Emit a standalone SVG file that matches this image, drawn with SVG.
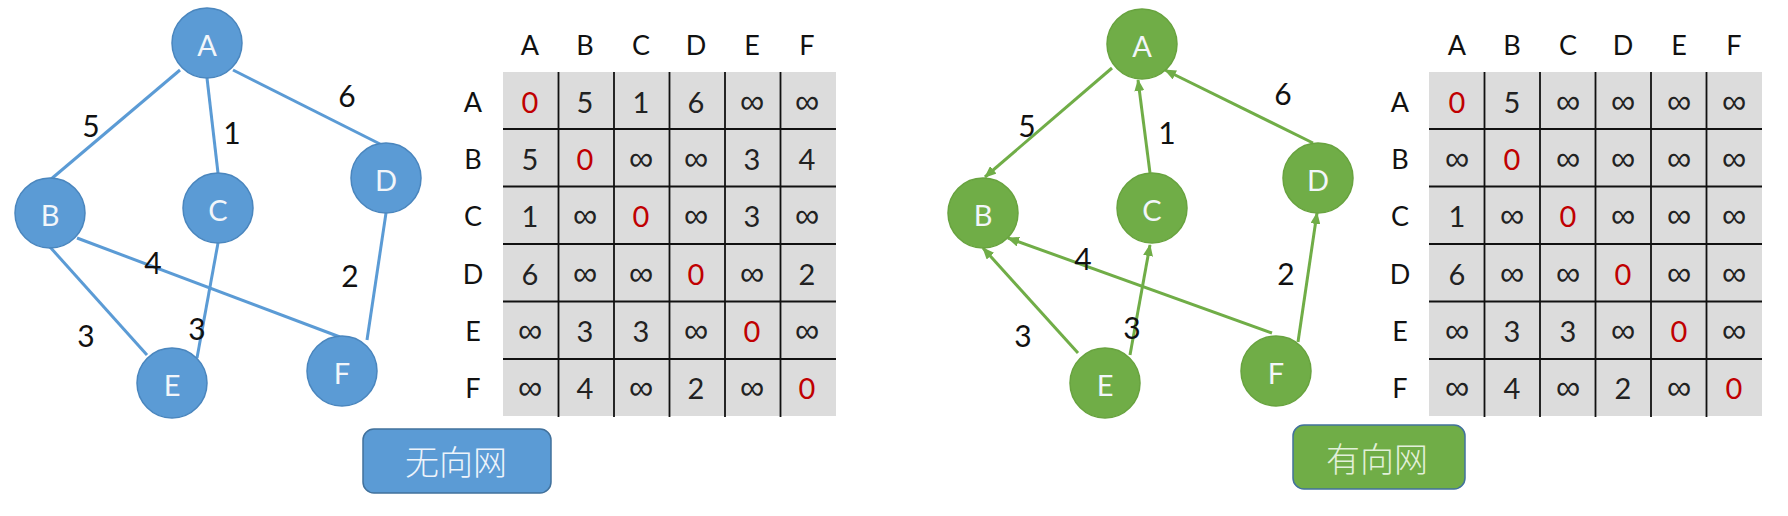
<svg xmlns="http://www.w3.org/2000/svg" width="1788" height="516" viewBox="0 0 1788 516">
<style>
.bn{fill:#5B9BD5;stroke:#4A86BE;stroke-width:1.5}
.gn{fill:#70AD47;stroke:#68A33F;stroke-width:1.5}
.nl{font-family:Lato,"Open Sans",sans-serif;font-size:29px;fill:#F2F6FA;text-anchor:middle;dominant-baseline:central}
.be{stroke:#5B9BD5;stroke-width:3;fill:none}
.ge{stroke:#70AD47;stroke-width:3;fill:none}
.el{font-family:Lato,"Open Sans",sans-serif;font-size:30px;fill:#111;text-anchor:middle;dominant-baseline:central}
.hd{font-family:Lato,"Open Sans",sans-serif;font-size:27px;fill:#111;text-anchor:middle;dominant-baseline:central}
.cv{font-family:Lato,"Open Sans",sans-serif;font-size:29px;fill:#222;text-anchor:middle;dominant-baseline:central}
.inf{font-family:"DejaVu Sans",sans-serif;font-weight:200;font-size:34px}
.z{fill:#C00000}
.bg{fill:#DCDCDC}
.gl{stroke:#111;stroke-width:1.8}
.btn{font-family:"Noto Sans CJK SC",sans-serif;font-size:34px;font-weight:300;text-anchor:middle;dominant-baseline:central}
</style>
<defs>
<marker id="arr" viewBox="0 0 12 10" refX="11" refY="5" markerWidth="12" markerHeight="10" markerUnits="userSpaceOnUse" orient="auto">
<path d="M0,0 L12,5 L0,10 z" fill="#70AD47"/>
</marker>
</defs>
<rect width="1788" height="516" fill="#FFFFFF"/>

<!-- left graph connectors -->
<g id="left-edges">
<line class="be" x1="180" y1="70" x2="50" y2="180"/>
<line class="be" x1="207" y1="78" x2="218" y2="173"/>
<line class="be" x1="233" y1="70" x2="380" y2="144"/>
<line class="be" x1="50" y1="247" x2="147" y2="355"/>
<line class="be" x1="77" y1="238" x2="340" y2="337"/>
<line class="be" x1="218" y1="243" x2="197" y2="358"/>
<line class="be" x1="386" y1="213" x2="367" y2="340"/>
<text class="el" x="91" y="125">5</text>
<text class="el" x="232" y="132">1</text>
<text class="el" x="347" y="95">6</text>
<text class="el" x="153" y="262">4</text>
<text class="el" x="350" y="275">2</text>
<text class="el" x="86" y="335">3</text>
<text class="el" x="197" y="328">3</text>
</g>
<g id="L-A"><circle class="bn" cx="207" cy="43" r="35"/><text class="nl" x="207" y="44">A</text></g>
<g id="L-B"><circle class="bn" cx="50" cy="213" r="35"/><text class="nl" x="50" y="214">B</text></g>
<g id="L-C"><circle class="bn" cx="218" cy="208" r="35"/><text class="nl" x="218" y="209">C</text></g>
<g id="L-D"><circle class="bn" cx="386" cy="178" r="35"/><text class="nl" x="386" y="179">D</text></g>
<g id="L-E"><circle class="bn" cx="172" cy="383" r="35"/><text class="nl" x="172" y="384">E</text></g>
<g id="L-F"><circle class="bn" cx="342" cy="371" r="35"/><text class="nl" x="342" y="372">F</text></g>

<!-- left matrix -->
<g id="left-matrix">
<rect class="bg" x="503" y="72" width="333" height="344"/>
<g class="gl">
<line x1="558.5" y1="72" x2="558.5" y2="417"/>
<line x1="614" y1="72" x2="614" y2="417"/>
<line x1="669.5" y1="72" x2="669.5" y2="417"/>
<line x1="725" y1="72" x2="725" y2="417"/>
<line x1="780.5" y1="72" x2="780.5" y2="417"/>
<line x1="503" y1="129" x2="836" y2="129"/>
<line x1="503" y1="186.5" x2="836" y2="186.5"/>
<line x1="503" y1="244" x2="836" y2="244"/>
<line x1="503" y1="301.5" x2="836" y2="301.5"/>
<line x1="503" y1="359" x2="836" y2="359"/>
</g>
<text class="hd" x="530" y="44">A</text><text class="hd" x="585" y="44">B</text><text class="hd" x="641" y="44">C</text><text class="hd" x="696" y="44">D</text><text class="hd" x="752" y="44">E</text><text class="hd" x="807" y="44">F</text>
<text class="hd" x="473" y="101">A</text><text class="hd" x="473" y="158">B</text><text class="hd" x="473" y="215">C</text><text class="hd" x="473" y="273">D</text><text class="hd" x="473" y="330">E</text><text class="hd" x="473" y="387">F</text>
<text class="cv z" x="530" y="101">0</text><text class="cv" x="585" y="101">5</text><text class="cv" x="641" y="101">1</text><text class="cv" x="696" y="101">6</text><text class="cv inf" x="752" y="101">∞</text><text class="cv inf" x="807" y="101">∞</text>
<text class="cv" x="530" y="158">5</text><text class="cv z" x="585" y="158">0</text><text class="cv inf" x="641" y="158">∞</text><text class="cv inf" x="696" y="158">∞</text><text class="cv" x="752" y="158">3</text><text class="cv" x="807" y="158">4</text>
<text class="cv" x="530" y="215">1</text><text class="cv inf" x="585" y="215">∞</text><text class="cv z" x="641" y="215">0</text><text class="cv inf" x="696" y="215">∞</text><text class="cv" x="752" y="215">3</text><text class="cv inf" x="807" y="215">∞</text>
<text class="cv" x="530" y="273">6</text><text class="cv inf" x="585" y="273">∞</text><text class="cv inf" x="641" y="273">∞</text><text class="cv z" x="696" y="273">0</text><text class="cv inf" x="752" y="273">∞</text><text class="cv" x="807" y="273">2</text>
<text class="cv inf" x="530" y="330">∞</text><text class="cv" x="585" y="330">3</text><text class="cv" x="641" y="330">3</text><text class="cv inf" x="696" y="330">∞</text><text class="cv z" x="752" y="330">0</text><text class="cv inf" x="807" y="330">∞</text>
<text class="cv inf" x="530" y="387">∞</text><text class="cv" x="585" y="387">4</text><text class="cv inf" x="641" y="387">∞</text><text class="cv" x="696" y="387">2</text><text class="cv inf" x="752" y="387">∞</text><text class="cv z" x="807" y="387">0</text>
</g>

<g id="btn-undirected">
<rect x="363" y="429" width="188" height="64" rx="11" fill="#5B9BD5" stroke="#41719C" stroke-width="1.5"/>
<text class="btn" x="456" y="460" fill="#EEF4FB">无向网</text>
</g>

<!-- right graph connectors -->
<g id="right-edges">
<line class="ge" x1="1112" y1="68" x2="985" y2="177" marker-end="url(#arr)"/>
<line class="ge" x1="1150" y1="173" x2="1138" y2="80" marker-end="url(#arr)"/>
<line class="ge" x1="1313" y1="143" x2="1165" y2="70" marker-end="url(#arr)"/>
<line class="ge" x1="1078" y1="353" x2="983" y2="248" marker-end="url(#arr)"/>
<line class="ge" x1="1130" y1="355" x2="1150" y2="245" marker-end="url(#arr)"/>
<line class="ge" x1="1272" y1="333" x2="1008" y2="238" marker-end="url(#arr)"/>
<line class="ge" x1="1298" y1="342" x2="1317" y2="213" marker-end="url(#arr)"/>
<text class="el" x="1027" y="125">5</text>
<text class="el" x="1167" y="132">1</text>
<text class="el" x="1283" y="93">6</text>
<text class="el" x="1083" y="258">4</text>
<text class="el" x="1286" y="273">2</text>
<text class="el" x="1023" y="335">3</text>
<text class="el" x="1132" y="327">3</text>
</g>
<g id="R-A"><circle class="gn" cx="1142" cy="44" r="35"/><text class="nl" x="1142" y="45">A</text></g>
<g id="R-B"><circle class="gn" cx="983" cy="213" r="35"/><text class="nl" x="983" y="214">B</text></g>
<g id="R-C"><circle class="gn" cx="1152" cy="208" r="35"/><text class="nl" x="1152" y="209">C</text></g>
<g id="R-D"><circle class="gn" cx="1318" cy="178" r="35"/><text class="nl" x="1318" y="179">D</text></g>
<g id="R-E"><circle class="gn" cx="1105" cy="383" r="35"/><text class="nl" x="1105" y="384">E</text></g>
<g id="R-F"><circle class="gn" cx="1276" cy="371" r="35"/><text class="nl" x="1276" y="372">F</text></g>

<!-- right matrix -->
<g id="right-matrix">
<rect class="bg" x="1429" y="72" width="333" height="344"/>
<g class="gl">
<line x1="1484.5" y1="72" x2="1484.5" y2="417"/>
<line x1="1540" y1="72" x2="1540" y2="417"/>
<line x1="1595.5" y1="72" x2="1595.5" y2="417"/>
<line x1="1651" y1="72" x2="1651" y2="417"/>
<line x1="1706.5" y1="72" x2="1706.5" y2="417"/>
<line x1="1429" y1="129" x2="1762" y2="129"/>
<line x1="1429" y1="186.5" x2="1762" y2="186.5"/>
<line x1="1429" y1="244" x2="1762" y2="244"/>
<line x1="1429" y1="301.5" x2="1762" y2="301.5"/>
<line x1="1429" y1="359" x2="1762" y2="359"/>
</g>
<text class="hd" x="1457" y="44">A</text><text class="hd" x="1512" y="44">B</text><text class="hd" x="1568" y="44">C</text><text class="hd" x="1623" y="44">D</text><text class="hd" x="1679" y="44">E</text><text class="hd" x="1734" y="44">F</text>
<text class="hd" x="1400" y="101">A</text><text class="hd" x="1400" y="158">B</text><text class="hd" x="1400" y="215">C</text><text class="hd" x="1400" y="273">D</text><text class="hd" x="1400" y="330">E</text><text class="hd" x="1400" y="387">F</text>
<text class="cv z" x="1457" y="101">0</text><text class="cv" x="1512" y="101">5</text><text class="cv inf" x="1568" y="101">∞</text><text class="cv inf" x="1623" y="101">∞</text><text class="cv inf" x="1679" y="101">∞</text><text class="cv inf" x="1734" y="101">∞</text>
<text class="cv inf" x="1457" y="158">∞</text><text class="cv z" x="1512" y="158">0</text><text class="cv inf" x="1568" y="158">∞</text><text class="cv inf" x="1623" y="158">∞</text><text class="cv inf" x="1679" y="158">∞</text><text class="cv inf" x="1734" y="158">∞</text>
<text class="cv" x="1457" y="215">1</text><text class="cv inf" x="1512" y="215">∞</text><text class="cv z" x="1568" y="215">0</text><text class="cv inf" x="1623" y="215">∞</text><text class="cv inf" x="1679" y="215">∞</text><text class="cv inf" x="1734" y="215">∞</text>
<text class="cv" x="1457" y="273">6</text><text class="cv inf" x="1512" y="273">∞</text><text class="cv inf" x="1568" y="273">∞</text><text class="cv z" x="1623" y="273">0</text><text class="cv inf" x="1679" y="273">∞</text><text class="cv inf" x="1734" y="273">∞</text>
<text class="cv inf" x="1457" y="330">∞</text><text class="cv" x="1512" y="330">3</text><text class="cv" x="1568" y="330">3</text><text class="cv inf" x="1623" y="330">∞</text><text class="cv z" x="1679" y="330">0</text><text class="cv inf" x="1734" y="330">∞</text>
<text class="cv inf" x="1457" y="387">∞</text><text class="cv" x="1512" y="387">4</text><text class="cv inf" x="1568" y="387">∞</text><text class="cv" x="1623" y="387">2</text><text class="cv inf" x="1679" y="387">∞</text><text class="cv z" x="1734" y="387">0</text>
</g>

<g id="btn-directed">
<rect x="1293" y="425" width="172" height="64" rx="11" fill="#70AD47" stroke="#41719C" stroke-width="1.5"/>
<text class="btn" x="1377" y="457" fill="#E2F0D9">有向网</text>
</g>
</svg>
